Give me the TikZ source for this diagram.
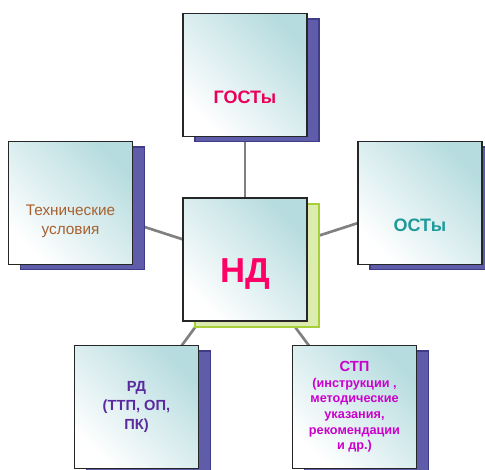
\documentclass[tikz,border=0pt]{standalone}
\usepackage{fontspec}
\setmainfont{Liberation Sans}
\usetikzlibrary{shadows}
\definecolor{boxteal}{HTML}{B6DCDF}
\definecolor{shadeblue}{HTML}{5F5DAA}
\definecolor{shadeline}{HTML}{3F3D8A}
\definecolor{shadegreen}{HTML}{DCEBAE}
\definecolor{shadelime}{HTML}{A6CF3A}
\definecolor{linkgray}{HTML}{808080}
\definecolor{gostred}{HTML}{E8005A}
\definecolor{ndred}{HTML}{FF0066}
\definecolor{tubrown}{HTML}{A8602E}
\definecolor{ostteal}{HTML}{1E9A9A}
\definecolor{rdviolet}{HTML}{5A2A9E}
\definecolor{stpmagenta}{HTML}{CC00CC}
\begin{document}
\begin{tikzpicture}[%
        x=0.75pt,y=-0.75pt,%
        doc/.style={%
            rectangle,%
            minimum width=93pt,%
            minimum height=92pt,%
            align=center,%
            line width=1pt,%
            draw=black!85, %
            left color=white,%
            right color=boxteal,%
            shading angle=135,%
            drop shadow={shadow xshift=9pt,shadow yshift=-4pt,%
                fill=shadeblue,draw=shadeline,opacity=1}%
        },%
        core/.style={%
            doc,%
            drop shadow={shadow xshift=9pt,shadow yshift=-4.5pt,%
                fill=shadegreen,draw=shadelime,line width=1pt,opacity=1}%
        },%
        low/.style={%
            text height=#1,%
            text depth=0pt%
        },%
        link/.style={%
            line width=2pt,%
            draw=linkgray%
        }%
    ]
    \useasboundingbox (0,0) rectangle (485,470);
    % links first, boxes on top
    \coordinate (c-nd)   at (245,259.5);
    \coordinate (c-gost) at (245,75);
    \coordinate (c-tu)   at (70.5,203);
    \coordinate (c-ost)  at (420,203);
    \coordinate (c-rd)   at (136.5,407);
    \coordinate (c-stp)  at (354.5,407);
    \draw [link] (c-nd) -- (c-gost);
    \draw [link] (c-nd) -- (c-tu);
    \draw [link] (c-nd) -- (c-ost);
    \draw [link] (c-nd) -- (c-rd);
    \draw [link] (c-nd) -- (c-stp);
    \node (gost) at (c-gost) [doc,low=43pt,text=gostred,
        font=\bfseries\fontsize{13.5}{16}\selectfont]{ГОСТы};
    \node (tu)   at (c-tu)   [doc,low=48pt,text=tubrown,
        font=\fontsize{11.5}{14.5}\selectfont]{Технические\\условия};
    \node (ost)  at (c-ost)  [doc,low=43pt,text=ostteal,
        font=\bfseries\fontsize{13.5}{16}\selectfont]{ОСТы};
    \node (nd)   at (c-nd)   [core,low=34pt,text=ndred,
        font=\bfseries\fontsize{26}{30}\selectfont]{НД};
    \node (rd)   at (c-rd)   [doc,text=rdviolet,
        font=\bfseries\fontsize{11}{14.5}\selectfont]{РД\\(ТТП, ОП,\\ПК)};
    \node (stp)  at (c-stp)  [doc,text=stpmagenta,
        font=\bfseries\fontsize{9.5}{11.75}\selectfont]{{\fontsize{11}{13}\selectfont СТП}\\
        (инструкции ,\\методические\\указания,\\рекомендации\\и др.)};
\end{tikzpicture}
\end{document}
